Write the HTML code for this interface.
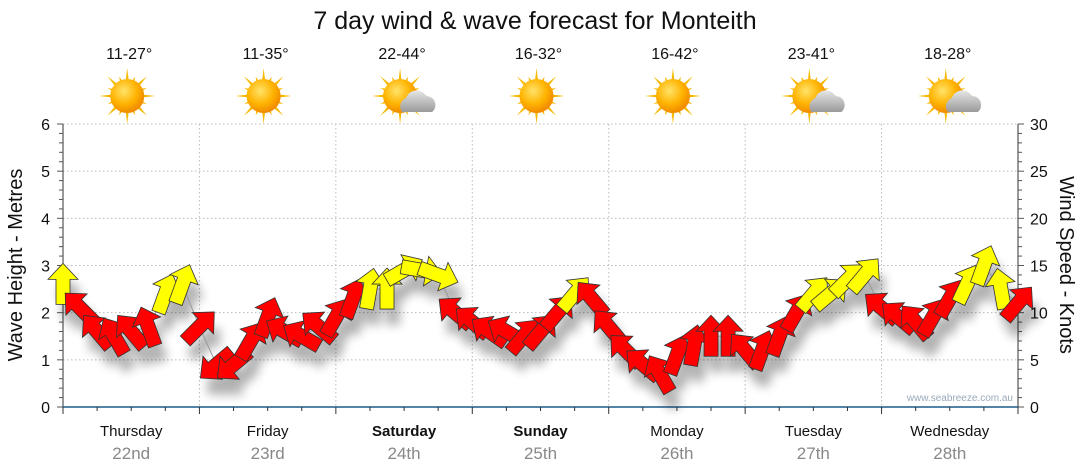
<!DOCTYPE html>
<html><head><meta charset="utf-8"><style>
body{margin:0;background:#fff;font-family:"Liberation Sans","DejaVu Sans",sans-serif;}
svg{display:block}
</style></head><body>
<svg id="c" width="1080" height="475" viewBox="0 0 1080 475">
<defs>
<radialGradient id="sunG" cx="40%" cy="35%" r="65%"><stop offset="0" stop-color="#ffe36a"/><stop offset="0.6" stop-color="#ffb300"/><stop offset="1" stop-color="#f08a00"/></radialGradient>
<linearGradient id="cloudG" x1="0" y1="0" x2="0" y2="1"><stop offset="0" stop-color="#e6e6e6"/><stop offset="1" stop-color="#9a9a9a"/></linearGradient>
<filter id="sh" x="-50%" y="-50%" width="200%" height="200%"><feGaussianBlur stdDeviation="5"/></filter>
</defs>
<text x="535" y="29" font-size="25" text-anchor="middle" fill="#111">7 day wind &amp; wave forecast for Monteith</text>
<g id="grid"></g>
<g id="axes"></g>
<g id="days"></g>
<g id="shadow" filter="url(#sh)" opacity="0.3"></g>
<path id="conn" fill="none" stroke="#999" stroke-width="1"/>
<g id="arrows"></g>
<text x="1013" y="401" font-size="10" text-anchor="end" fill="#9ab">www.seabreeze.com.au</text>
<text transform="translate(22,265) rotate(-90)" font-size="20" text-anchor="middle" fill="#111">Wave Height - Metres</text>
<text transform="translate(1060,265) rotate(90)" font-size="20" text-anchor="middle" fill="#111">Wind Speed - Knots</text>
</svg>
<script>
const dayNames=["Thursday","Friday","Saturday","Sunday","Monday","Tuesday","Wednesday"];
const dayDates=["22nd","23rd","24th","25th","26th","27th","28th"];
const dayBold=[false,false,true,true,false,false,false];
const temps=["11-27°","11-35°","22-44°","16-32°","16-42°","23-41°","18-28°"];
const icons=["sun","sun","cloud","sun","sun","cloud","cloud"];
const leftTicks=[0,1,2,3,4,5,6];
const rightTicks=[0,5,10,15,20,25,30];
const hours=[0,3,6,9,12,15,18,21,24,27,30,33,36,39,42,45,48,51,54,57,60,63,66,69,72,75,78,81,84,87,90,93,96,99,102,105,108,111,114,117,120,123,126,129,132,135,138,141,144,147,150,153,156,159,162,165,168];
const speeds=[13,10.5,8,7.5,8,8.5,12,13,8.5,4.5,4.5,7,9.5,8,7.5,8.5,9.5,11.5,12.5,12.5,14.5,14.5,14,10,9,8,8,7.5,8,10,12,11.5,8.5,6,4.5,3.5,5.5,6.5,7.5,7.5,6,6,7.5,10,12,12,13.5,14,10.5,9.5,9,9.5,11.5,13,15,12.5,11];
const dirs=[0,-45,-40,-30,-40,-20,20,20,45,230,230,30,20,-60,-60,-50,30,20,10,0,60,100,110,-50,-50,-55,-60,40,40,40,40,-40,-40,-45,-50,-30,20,10,0,0,-40,20,20,30,40,50,45,40,-50,-50,-40,30,30,25,20,-10,40];

const X0=63,X1=1018,Y0=407,Y1=124;
const xOf=h=>X0+(X1-X0)*h/168;
const yM=m=>Y0-(Y0-Y1)*m/6;
const yK=k=>Y0-(Y0-Y1)*k/30;
const NS="http://www.w3.org/2000/svg";
function mk(tag,attrs,parent,txt){const e=document.createElementNS(NS,tag);for(const k in attrs)e.setAttribute(k,attrs[k]);if(txt!==undefined)e.textContent=txt;parent.appendChild(e);return e;}
const grid=document.getElementById('grid'),axes=document.getElementById('axes'),days=document.getElementById('days');
leftTicks.forEach(v=>{if(v>0){const l=mk('line',{x1:X0,x2:X1,y1:yM(v),y2:yM(v),stroke:'#bbb','stroke-dasharray':'1.5,2.5','stroke-width':1},grid);

}});
for(let d=1;d<7;d++){const l=mk('line',{x1:xOf(d*24),x2:xOf(d*24),y1:Y1,y2:Y0,stroke:'#bbb','stroke-dasharray':'1.5,2.5'},grid);

}
mk('line',{x1:X0,x2:X0,y1:Y1,y2:Y0,stroke:'#333'},axes);
mk('line',{x1:X1,x2:X1,y1:Y1,y2:Y0,stroke:'#333'},axes);
const xa=mk('line',{x1:X0,x2:X1,y1:Y0,y2:Y0,stroke:'#1a5a8a','stroke-width':1.5},axes);


for(let i=0;i<=30;i++){const y=Y0-(Y0-Y1)*i/30;const maj=i%5==0;
mk('line',{x1:X0-(maj?6:4),x2:X0,y1:y,y2:y,stroke:'#555'},axes);
mk('line',{x1:X1,x2:X1+(maj?6:4),y1:y,y2:y,stroke:'#555'},axes);}
leftTicks.forEach(v=>{const t=mk('text',{x:50,y:yM(v)+6,'font-size':16,'text-anchor':'end',fill:'#111'},axes,v);

});
rightTicks.forEach(v=>{const t=mk('text',{x:1030,y:yK(v)+6,'font-size':16,fill:'#111'},axes,v);

});
for(let h=0;h<=168;h+=6){mk('line',{x1:xOf(h),x2:xOf(h),y1:Y0,y2:Y0+(h%24==0?7:4),stroke:'#333'},axes);}
dayNames.forEach((n,i)=>{const cx=xOf(i*24+12);
const t=mk('text',{x:cx,y:436,'font-size':15,'text-anchor':'middle',fill:'#111','font-weight':dayBold[i]?'bold':'normal'},days,n);


const d=mk('text',{x:cx,y:459,'font-size':17,'text-anchor':'middle',fill:'#888'},days,dayDates[i]);


const tt=mk('text',{x:cx-2,y:59,'font-size':16,'text-anchor':'middle',fill:'#111'},days,temps[i]);


const g=mk('g',{transform:`translate(${cx-4},96)`},days);


for(let r=0;r<16;r++){const a=r*Math.PI/8,L=r%2?21:28;mk('polygon',{points:`${Math.cos(a+0.12)*14},${Math.sin(a+0.12)*14} ${Math.cos(a)*L},${Math.sin(a)*L} ${Math.cos(a-0.12)*14},${Math.sin(a-0.12)*14}`,fill:'#f5b800'},g);}
mk('circle',{r:17,fill:'url(#sunG)'},g);
if(icons[i]=='cloud'){mk('path',{d:'M-4,16 a9,9 0 0 1 4,-14 a11,11 0 0 1 20,-2 a9,9 0 0 1 6,16 z',fill:'url(#cloudG)',transform:'translate(6,0)'},g);}
});
const arrows=document.getElementById('arrows'),shadow=document.getElementById('shadow');
let dp='';
const shape='M0,-21 L15,-5 L7,-5 L7,20 L-7,20 L-7,-5 L-15,-5 Z';
hours.forEach((h,i)=>{const x=xOf(h),y=yK(speeds[i]);dp+=(i?'L':'M')+x+','+y;
mk('path',{d:shape,fill:'#000',transform:`translate(${x+6},${y+16}) rotate(${dirs[i]})`},shadow);
const a=mk('path',{d:shape,fill:speeds[i]>=12?'#ffff00':'#ff0000',stroke:'#333','stroke-width':0.8,transform:`translate(${x},${y}) rotate(${dirs[i]})`},arrows);


});
document.getElementById('conn').setAttribute('d',dp);
</script>
</body></html>
